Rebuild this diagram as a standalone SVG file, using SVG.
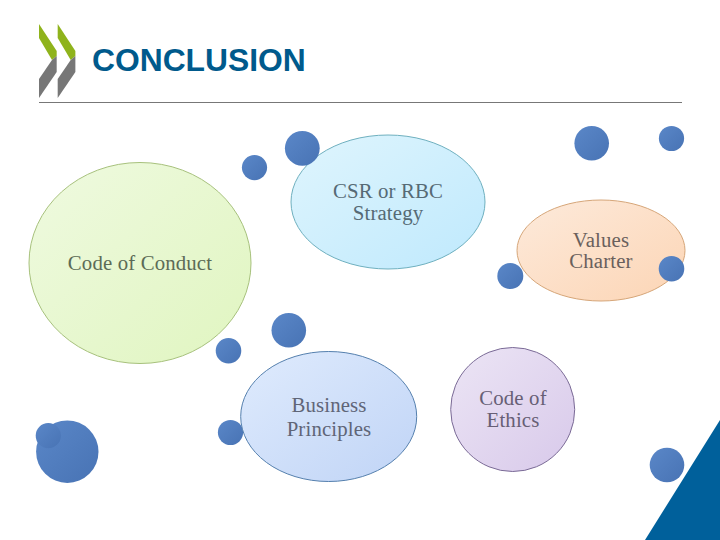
<svg xmlns="http://www.w3.org/2000/svg" width="720" height="540" viewBox="0 0 720 540">
<style>
.lbl{font-family:"Liberation Serif","DejaVu Serif",serif;font-size:20.8px;letter-spacing:.15px;text-anchor:middle}
.dot{fill:url(#gb)}
.n{stroke-width:1}
.gr{fill:#8fb31c}
.gy{fill:#777}
</style>
<defs>
<linearGradient id="gb" x1="0" y1="0" x2="1" y2="1"><stop offset="0" stop-color="#5a87c8"/><stop offset="1" stop-color="#4873b4"/></linearGradient>
<linearGradient id="gg" x1="0" y1="0" x2="1" y2="1"><stop offset="0" stop-color="#effae0"/><stop offset="1" stop-color="#e0f5c0"/></linearGradient>
<linearGradient id="gc" x1="0" y1="0" x2="1" y2="1"><stop offset="0" stop-color="#dff5fd"/><stop offset="1" stop-color="#bfe9fd"/></linearGradient>
<linearGradient id="go" x1="0" y1="0" x2="1" y2="1"><stop offset="0" stop-color="#fdeadb"/><stop offset="1" stop-color="#fcd5b5"/></linearGradient>
<linearGradient id="gu" x1="0" y1="0" x2="1" y2="1"><stop offset="0" stop-color="#dfebfd"/><stop offset="1" stop-color="#c0d4f6"/></linearGradient>
<linearGradient id="gp" x1="0" y1="0" x2="1" y2="1"><stop offset="0" stop-color="#ece5f5"/><stop offset="1" stop-color="#d8c9ea"/></linearGradient>
</defs>
<rect width="720" height="540" fill="#fff"/>
<g id="logo">
<polygon class="gr" points="39,24 56.7,51 56.7,56 52,60 39,38"/>
<polygon class="gy" points="56.7,56 56.7,72 39,98 39,79 52,60"/>
<polygon class="gr" points="57.7,24 75.4,51 75.4,56 70.7,60 57.7,38"/>
<polygon class="gy" points="75.4,56 75.4,72 57.7,98 57.7,79 70.7,60"/>
</g>
<text id="title" x="92" y="70.5" font-family="Liberation Sans,Arial,sans-serif" font-weight="700" font-size="31.8" fill="#005a8c">CONCLUSION</text>
<line x1="39" y1="102.5" x2="682" y2="102.5" stroke="#777" stroke-width="1"/>
<polygon id="corner" points="720,420 720,540 645,540" fill="#00609b"/>
<g id="dots">
<circle class="dot" cx="254.5" cy="167.6" r="12.6"/>
<circle class="dot" cx="591.7" cy="143.3" r="17.3"/>
<circle class="dot" cx="671.5" cy="138.5" r="12.6"/>
<circle class="dot" cx="228.5" cy="350.8" r="12.8"/>
<circle class="dot" cx="288.8" cy="330.3" r="17.3"/>
<circle class="dot" cx="230.5" cy="432.5" r="12.6"/>
<circle class="dot" cx="67.3" cy="451.7" r="31.2"/>
<circle class="dot" cx="48.3" cy="435.7" r="12.6"/>
<circle class="dot" cx="667" cy="465" r="17.3"/>
<circle class="dot" cx="510.3" cy="276" r="13"/>
</g>
<g id="n-conduct"><ellipse class="n" cx="140" cy="263" rx="111" ry="100.5" fill="url(#gg)" stroke="#a7c17c"/><text class="lbl" x="140" y="270" fill="#5c6b56">Code of Conduct</text></g>
<g id="n-csr"><ellipse class="n" cx="388" cy="202" rx="97" ry="67" fill="url(#gc)" stroke="#6fb0bf"/><text class="lbl" x="388" y="198" fill="#566a75">CSR or RBC</text><text class="lbl" x="388" y="220" fill="#566a75">Strategy</text></g>
<g id="n-values"><ellipse class="n" cx="601" cy="250.5" rx="84" ry="50.5" fill="url(#go)" stroke="#d6a679"/><text class="lbl" x="601" y="246.5" fill="#6a605c">Values</text><text class="lbl" x="601" y="268" fill="#6a605c">Charter</text></g>
<g id="n-business"><ellipse class="n" cx="328.7" cy="416.5" rx="88" ry="65" fill="url(#gu)" stroke="#5580ae"/><text class="lbl" x="329" y="412" fill="#5f6577">Business</text><text class="lbl" x="329" y="436" fill="#5f6577">Principles</text></g>
<g id="n-ethics"><ellipse class="n" cx="512.7" cy="409.5" rx="62" ry="62" fill="url(#gp)" stroke="#7a6a96"/><text class="lbl" x="513" y="404.5" fill="#675f75">Code of</text><text class="lbl" x="513" y="427" fill="#675f75">Ethics</text></g>
<g id="dots-over">
<circle class="dot" cx="302.3" cy="148.3" r="17.4"/>
<circle class="dot" cx="671.5" cy="268.7" r="12.8"/>
</g>
</svg>
